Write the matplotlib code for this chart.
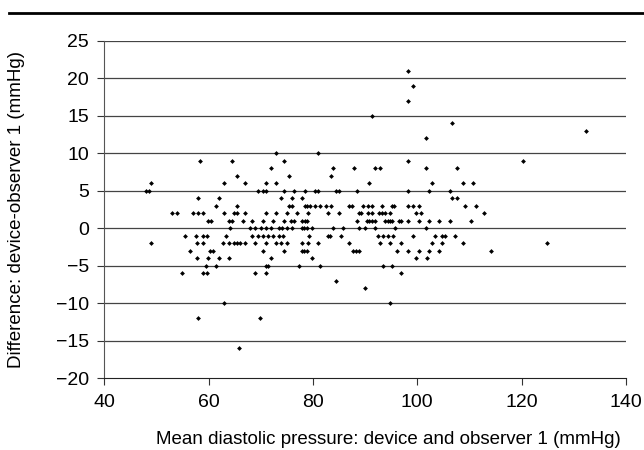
import numpy as np
import matplotlib
matplotlib.use("Agg")
import matplotlib.pyplot as plt
from matplotlib.lines import Line2D

plt.rcParams['font.family'] = ['Liberation Sans', 'DejaVu Sans']

# mean diastolic pressure (x) per difference level (y)
rows = {
    21: [98.3],
    19: [99.2],
    17: [98.3],
    15: [91.4],
    14: [106.7],
    13: [132.3],
    12: [101.7],
    10: [72.9, 80.9],
    9: [58.4, 64.4, 74.4, 98.3, 120.2],
    8: [71.9, 83.9, 87.9, 91.9, 92.9, 101.7, 107.7],
    7: [65.4, 75.4, 83.4],
    6: [49.0, 62.9, 66.9, 71.0, 72.9, 90.8, 102.8, 108.7, 110.7],
    5: [48.0, 48.5, 69.5, 70.5, 71.0, 74.4, 76.4, 78.4, 80.4, 80.9, 84.5,
        84.9, 88.4, 98.3, 102.2, 106.2],
    4: [57.9, 61.9, 73.9, 75.9, 77.9, 106.6, 107.7],
    3: [61.4, 65.4, 75.4, 75.9, 78.4, 78.9, 79.4, 80.4, 81.4, 82.4, 83.4,
        87.0, 87.4, 89.5, 90.5, 91.4, 93.3, 95.1, 95.6, 98.3, 99.2, 100.3,
        109.2, 111.2],
    2: [52.9, 53.9, 57.0, 57.9, 59.0, 62.9, 64.9, 65.4, 66.9, 71.0, 72.9,
        75.0, 77.0, 79.0, 82.9, 84.9, 88.9, 89.3, 90.6, 91.4, 92.7, 93.3,
        93.8, 94.8, 99.7, 100.7, 112.7],
    1: [59.9, 60.5, 63.9, 64.4, 66.5, 68.4, 70.4, 72.4, 74.4, 75.8, 76.4,
        77.9, 78.4, 78.9, 88.4, 90.3, 90.8, 91.4, 91.9, 93.8, 94.3, 94.8,
        95.2, 96.4, 96.8, 98.3, 100.3, 102.2, 104.2, 106.2, 110.2],
    0: [64.0, 67.9, 68.9, 70.0, 71.0, 71.9, 73.5, 74.0, 75.0, 75.9, 77.8,
        78.3, 78.8, 79.9, 83.9, 85.8, 88.9, 90.0, 91.9, 95.7, 101.7],
    -1: [55.5, 57.5, 59.0, 59.6, 63.4, 68.4, 69.4, 70.4, 71.4, 72.4, 73.4,
         74.3, 79.3, 82.8, 83.3, 85.4, 92.4, 93.4, 94.3, 95.3, 99.2, 103.3,
         104.7, 105.3, 107.2],
    -2: [49.0, 57.8, 59.0, 62.8, 63.9, 64.9, 65.4, 66.0, 66.9, 68.9, 71.0,
         72.9, 73.9, 75.0, 77.8, 79.0, 80.9, 86.9, 92.8, 94.8, 96.8, 102.8,
         104.7, 108.7, 124.8],
    -3: [56.4, 60.3, 60.9, 70.4, 74.4, 77.8, 78.3, 78.9, 87.7, 88.2, 88.8,
         96.2, 98.3, 100.3, 102.2, 104.2, 114.2],
    -4: [57.8, 59.9, 61.9, 63.9, 71.9, 79.9, 99.8, 101.8],
    -5: [59.5, 61.4, 71.0, 71.4, 77.4, 81.4, 93.4, 95.2],
    -6: [54.9, 59.0, 59.6, 68.9, 71.0, 96.8],
    -7: [84.5],
    -8: [90.0],
    -10: [62.9, 94.8],
    -12: [57.9, 69.9],
    -16: [65.9],
}

mean_bp = []
difference = []
for d, xs in rows.items():
    for x in xs:
        mean_bp.append(x)
        difference.append(d)

fig = plt.figure(figsize=(6.44, 4.5), dpi=100)
ax = fig.add_axes([0.162, 0.159, 0.81, 0.75])

for g in range(-15, 30, 5):
    ax.axhline(g, color='#444444', lw=0.9, zorder=1)

ax.scatter(mean_bp, difference, marker='D', s=6, color='black', zorder=3,
           linewidths=0)

ax.set_xlim(40, 140)
ax.set_ylim(-20, 25)
ax.set_xticks(range(40, 141, 20))
ax.set_yticks(range(-20, 26, 5))
ax.tick_params(labelsize=14, length=5, width=0.8, color='#333333')
ax.tick_params(axis='x', pad=6)
ax.tick_params(axis='y', pad=6)
for s in ['top', 'right']:
    ax.spines[s].set_visible(False)
ax.spines['left'].set_color('#555555')
ax.spines['bottom'].set_color('#222222')

ax.set_xlabel('Mean diastolic pressure: device and observer 1 (mmHg)',
              fontsize=13.5)
ax.xaxis.set_label_coords(0.545, -0.155)
ax.set_ylabel('Difference: device-observer 1 (mmHg)', fontsize=13.5)
ax.yaxis.set_label_coords(-0.152, 0.5)

# rule across the top of the figure
fig.add_artist(Line2D([0.014, 1.0], [0.971, 0.971], color='black', lw=2,
                      transform=fig.transFigure))

fig.savefig('out.png', dpi=100)
